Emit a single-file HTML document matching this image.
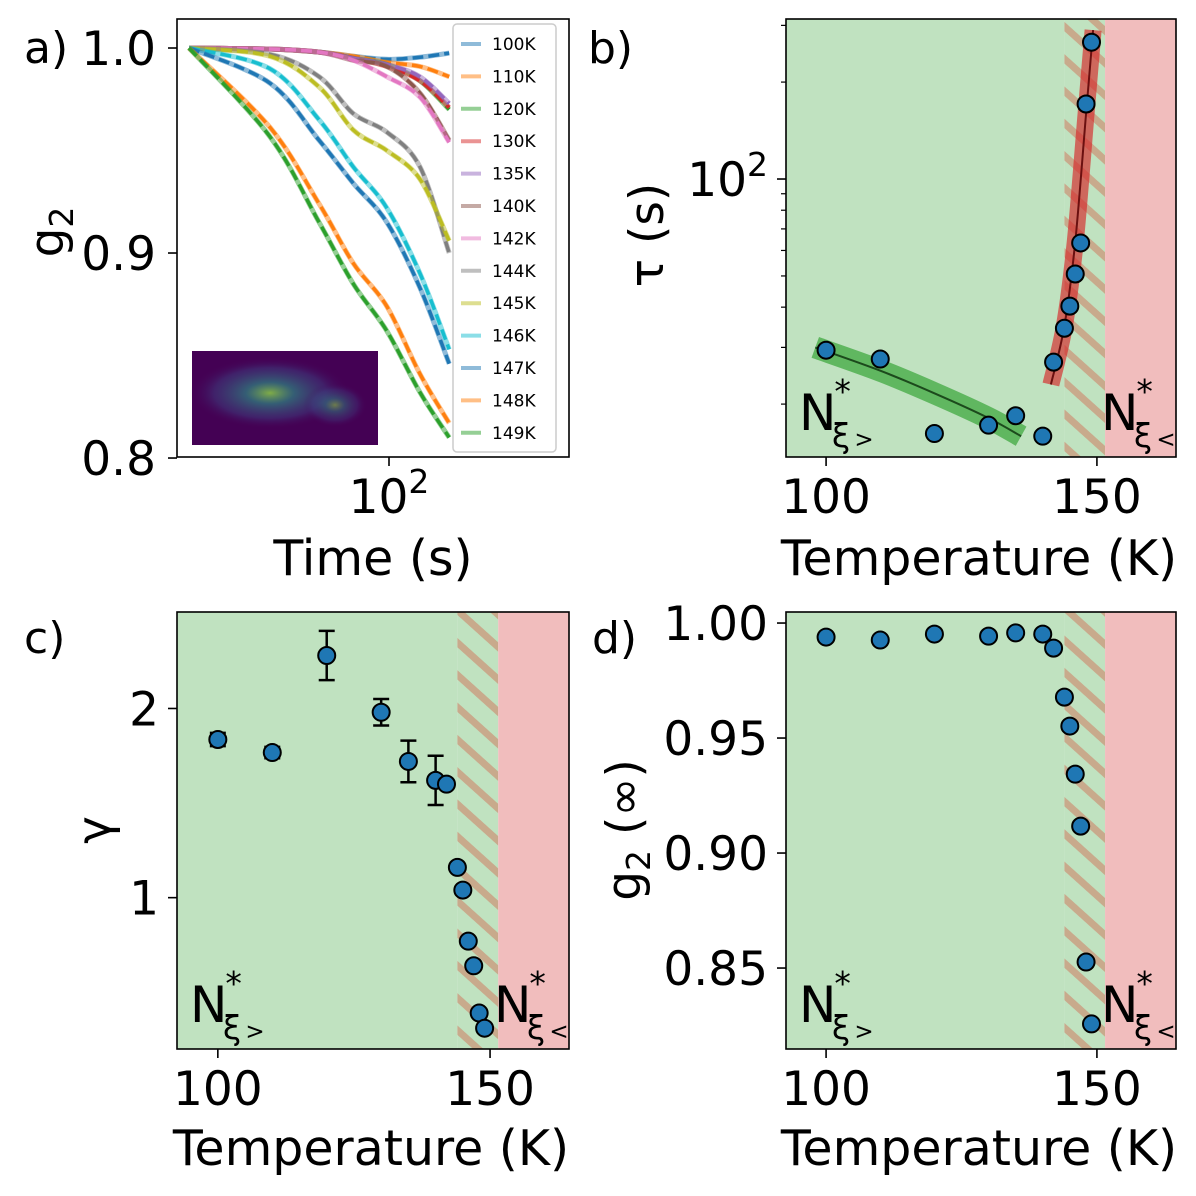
<!DOCTYPE html>
<html><head><meta charset="utf-8"><style>
html,body{margin:0;padding:0;background:#fff;}
svg{display:block;font-family:"DejaVu Sans","Liberation Sans",sans-serif;}
</style></head><body>
<svg id="fig" width="1196" height="1196" viewBox="0 0 1196 1196" xmlns="http://www.w3.org/2000/svg">
<defs>
<pattern id="hatch" patternUnits="userSpaceOnUse" width="24" height="24" patternTransform="rotate(42)">
<rect x="0" y="0" width="24" height="24" fill="#c0e2c0"/>
<rect x="0" y="0" width="24" height="7" fill="#c8aa8c"/>
</pattern>
<radialGradient id="blob" cx="50%" cy="50%" r="50%">
<stop offset="0" stop-color="#8fd744" stop-opacity="0.8"/><stop offset="0.3" stop-color="#2a9c8a" stop-opacity="0.6"/><stop offset="0.7" stop-color="#3b528b" stop-opacity="0.4"/><stop offset="1" stop-color="#440154" stop-opacity="0"/>
</radialGradient>
</defs>
</svg>
<script>
// ---------- data ----------
const aTimes = [1, 6.4, 20, 44, 95, 204, 400];
const aLabels = ['100K','110K','120K','130K','135K','140K','142K','144K','145K','146K','147K','148K','149K'];
const aColors = ['#1f77b4','#ff7f0e','#2ca02c','#d62728','#9467bd','#8c564b','#e377c2','#7f7f7f','#bcbd22','#17becf','#1f77b4','#ff7f0e','#2ca02c'];
const g100 = [1, 0.9995, 0.998, 0.996, 0.9945, 0.9955, 0.9975];
const g110 = [1, 0.9995, 0.998, 0.996, 0.993, 0.991, 0.986];
const g120 = [1, 0.9995, 0.998, 0.995, 0.992, 0.984, 0.970];
const g130 = [1, 0.9995, 0.998, 0.995, 0.991, 0.984, 0.971];
const g135 = [1, 0.9995, 0.998, 0.995, 0.992, 0.986, 0.973];
const g140 = [1, 0.9995, 0.998, 0.994, 0.991, 0.978, 0.955];
const g142 = [1, 0.9995, 0.998, 0.994, 0.986, 0.976, 0.954];
const g144 = [1, 0.997, 0.986, 0.968, 0.959, 0.942, 0.900];
const g145 = [1, 0.996, 0.981, 0.960, 0.950, 0.936, 0.906];
const g146 = [1, 0.990, 0.965, 0.942, 0.922, 0.890, 0.853];
const g147 = [1, 0.983, 0.955, 0.934, 0.915, 0.883, 0.846];
const g148 = [1, 0.9615, 0.924, 0.895, 0.874, 0.841, 0.817];
const g149 = [1, 0.957, 0.915, 0.885, 0.862, 0.832, 0.810];
const aSeries = [g100,g110,g120,g130,g135,g140,g142,g144,g145,g146,g147,g148,g149];

const temps = [100,110,120,130,135,140,142,144,145,146,147,148,149];
const tauVals = [29.4, 27.6, 16.2, 17.2, 18.4, 15.9, 27.0, 34.4, 40.3, 50.7, 63.3, 171, 266];
const fitLowT = [98, 110, 120, 130, 136];
const fitLowTau = [30, 25.4, 21.6, 18.1, 15.9];
const fitHighT = [141.5, 144, 146, 148, 149.3];
const fitHighTau = [23, 35, 64, 160, 290];
const gammaVals = [1.836, 1.767, 2.28, 1.98, 1.72, 1.62, 1.60, 1.16, 1.04, 0.77, 0.64, 0.39, 0.31];
const gammaErr = [0.035, 0.03, 0.13, 0.07, 0.11, 0.13, 0, 0, 0, 0, 0, 0, 0];
const ginfVals = [0.9939, 0.9926, 0.9952, 0.9943, 0.9957, 0.9952, 0.9891, 0.9678, 0.9552, 0.9343, 0.9117, 0.8526, 0.8257];
const tauTicks = [100];
const gammaTicks = [1, 2];
const ginfTicks = [1.00, 0.95, 0.90, 0.85];
const ginfTickLabels = ['1.00','0.95','0.90','0.85'];
const g2Ticks = [1.0, 0.9, 0.8];
const g2TickLabels = ['1.0','0.9','0.8'];
const tempTicks = [100, 150];

// ---------- helpers ----------
const NS = 'http://www.w3.org/2000/svg';
const svg = document.getElementById('fig');
function mk(tag, attrs, parent){ const e=document.createElementNS(NS,tag); for(const k in attrs) e.setAttribute(k,attrs[k]); (parent||svg).appendChild(e); return e; }
function lin(d0,d1,r0,r1){ return v => r0 + (v-d0)*(r1-r0)/(d1-d0); }
function logs(d0,d1,r0,r1){ return v => r0 + (Math.log10(v)-Math.log10(d0))*(r1-r0)/(Math.log10(d1)-Math.log10(d0)); }
function txt(x,y,s,size,anchor,parent){ const t=mk('text',{x:x,y:y,'font-size':size,'text-anchor':anchor||'start',fill:'#000'},parent); t.textContent=s; return t; }
function smooth(p){
  let d='M'+p[0][0].toFixed(1)+','+p[0][1].toFixed(1);
  for(let i=0;i<p.length-1;i++){
    const p0=p[Math.max(0,i-1)],p1=p[i],p2=p[i+1],p3=p[Math.min(p.length-1,i+2)];
    const c1=[p1[0]+(p2[0]-p0[0])/6,p1[1]+(p2[1]-p0[1])/6];
    const c2=[p2[0]-(p3[0]-p1[0])/6,p2[1]-(p3[1]-p1[1])/6];
    d+=' C'+c1[0].toFixed(1)+','+c1[1].toFixed(1)+' '+c2[0].toFixed(1)+','+c2[1].toFixed(1)+' '+p2[0].toFixed(1)+','+p2[1].toFixed(1);
  }
  return d;
}

// ---------- panel geometry ----------
const A = {x0:177,x1:569,y0:19,y1:457};
const B = {x0:786,x1:1176,y0:19,y1:457};
const C = {x0:177,x1:569,y0:612,y1:1049};
const D = {x0:786,x1:1176,y0:612,y1:1049};

const ax = logs(Math.pow(10,-0.12), Math.pow(10,3.8), A.x0, A.x1);
const ay = lin(0.8005, 1.01415, A.y1, A.y0);
const bx = lin(92.6, 164.6, B.x0, B.x1);
const by = logs(13.7, 314, B.y1, B.y0);
const cx = lin(92.5, 164.5, C.x0, C.x1);
const cy = lin(0.20, 2.51, C.y1, C.y0);
const dx = lin(92.6, 164.6, D.x0, D.x1);
const dy = lin(0.8148, 1.0048, D.y1, D.y0);

// ---------- panel a ----------
const gA = mk('g',{});


aSeries.forEach((s,i)=>{
  const d = smooth(s.map((v,j)=>[ax(aTimes[j]), ay(v)]));
  const l = mk('path',{d:d,fill:'none',stroke:aColors[i],'stroke-width':5,'stroke-opacity':0.5,'stroke-linejoin':'round'},gA);
  
  
  const f = mk('path',{d:d,fill:'none',stroke:aColors[i],'stroke-width':3.5,'stroke-dasharray':'11,5'},gA);
  
  
});
// inset
const inset = mk('g',{},gA);


mk('rect',{x:192,y:351,width:186,height:94,fill:'#440154'},inset);
mk('ellipse',{cx:270,cy:393,rx:80,ry:36,fill:'url(#blob)'},inset);
mk('ellipse',{cx:335,cy:405,rx:32,ry:22,fill:'url(#blob)',opacity:0.7},inset);
// legend
const leg = mk('g',{},gA);


mk('rect',{x:453,y:24,width:103,height:428,rx:4,fill:'#fff','fill-opacity':0.8,stroke:'#ccc','stroke-width':1.5},leg);
aLabels.forEach((lab,i)=>{
  const y = 44 + i*32.4;
  const e = mk('g',{},leg);
  
  
  mk('line',{x1:461,x2:481,y1:y,y2:y,stroke:aColors[i],'stroke-width':4,'stroke-opacity':0.5},e);
  txt(492,y+6,lab,17,'start',e);
});
mk('rect',{x:A.x0,y:A.y0,width:A.x1-A.x0,height:A.y1-A.y0,fill:'none',stroke:'#000','stroke-width':1.6},gA);
g2Ticks.forEach((v,i)=>{
  mk('line',{x1:A.x0-9,x2:A.x0,y1:ay(v),y2:ay(v),stroke:'#000','stroke-width':1.6},gA);
  const t = txt(156,ay(v)+17,g2TickLabels[i],47,'end',gA);
  
  
});
mk('line',{x1:ax(100),x2:ax(100),y1:A.y1,y2:A.y1+9,stroke:'#000','stroke-width':1.6},gA);
const xt = mk('text',{x:ax(100),y:513,'font-size':47,'text-anchor':'middle'},gA);
xt.innerHTML = '10<tspan dy="-20" font-size="33">2</tspan>';


const axl = txt(373,575,'Time (s)',49,'middle',gA);


const ayl = mk('text',{x:0,y:0,'font-size':47,'text-anchor':'middle',transform:'translate(63,232) rotate(-90)'},gA);
ayl.innerHTML = 'g<tspan dy="10" font-size="33">2</tspan>';


const la = txt(24,63,'a)',44,'start',gA);



// ---------- shared ----------
function regions(P, sx, g){
  mk('rect',{x:P.x0,y:P.y0,width:sx(144)-P.x0,height:P.y1-P.y0,fill:'#c0e2c0'},g);
  mk('rect',{x:sx(144),y:P.y0,width:sx(151.5)-sx(144),height:P.y1-P.y0,fill:'url(#hatch)'},g);
  mk('rect',{x:sx(151.5),y:P.y0,width:P.x1-sx(151.5),height:P.y1-P.y0,fill:'#f1bdbd'},g);
}
function frame(P,g){ mk('rect',{x:P.x0,y:P.y0,width:P.x1-P.x0,height:P.y1-P.y0,fill:'none',stroke:'#000','stroke-width':1.6},g); }
function xTicks(P,sx,g,labY,titleY){
  tempTicks.forEach(v=>{
    mk('line',{x1:sx(v),x2:sx(v),y1:P.y1,y2:P.y1+9,stroke:'#000','stroke-width':1.6},g);
    const t = txt(sx(v),labY,String(v),47,'middle',g);
    
    
  });
  const tt = txt((P.x0+P.x1)/2-2,titleY,'Temperature (K)',49,'middle',g);
  
  
}
function nLabels(P,g){
  const a = mk('text',{x:P.x0+13,y:P.y1-27,'font-size':50},g);
  a.innerHTML = 'N<tspan dx="-2" dy="-27" font-size="33">*</tspan><tspan dx="-19" dy="44" font-size="33">ξ</tspan><tspan dx="4" font-size="23">&gt;</tspan>';
  
  
  const b = mk('text',{x:P.x1-75,y:P.y1-27,'font-size':50},g);
  b.innerHTML = 'N<tspan dx="-2" dy="-27" font-size="33">*</tspan><tspan dx="-19" dy="44" font-size="33">ξ</tspan><tspan dx="4" font-size="23">&lt;</tspan>';
  
  
}
function dot(x,y,g,name){
  const c = mk('circle',{cx:x,cy:y,r:8.5,fill:'#1f77b4',stroke:'#000','stroke-width':2},g);
  
  
}

// ---------- panel b ----------
const gB = mk('g',{});


regions(B,bx,gB);
const lowD = smooth(fitLowT.map((t,i)=>[bx(t),by(fitLowTau[i])]));
const band1 = mk('path',{d:lowD,fill:'none',stroke:'#2ca02c','stroke-opacity':0.65,'stroke-width':22},gB);


const fl1 = mk('path',{d:lowD,fill:'none',stroke:'#1c4a1c','stroke-width':2},gB);


const hiD = smooth(fitHighT.map((t,i)=>[bx(t),by(fitHighTau[i])]));
const band2 = mk('path',{d:hiD,fill:'none',stroke:'#d62728','stroke-opacity':0.65,'stroke-width':17},gB);


const fl2 = mk('path',{d:hiD,fill:'none',stroke:'#6b1010','stroke-width':2},gB);


temps.forEach((t,i)=>dot(bx(t),by(tauVals[i]),gB,'tau-point-'+t+'K'));
nLabels(B,gB);
frame(B,gB);
tauTicks.forEach(v=>{
  mk('line',{x1:B.x0-9,x2:B.x0,y1:by(v),y2:by(v),stroke:'#000','stroke-width':1.6},gB);
  const t = mk('text',{x:B.x0-18,y:by(v)+17,'font-size':47,'text-anchor':'end'},gB);
  t.innerHTML = '10<tspan dy="-20" font-size="33">2</tspan>';
  
  
});
[20,30,40,50,60,70,80,90,200,300].forEach(v=>{
  mk('line',{x1:B.x0-5,x2:B.x0,y1:by(v),y2:by(v),stroke:'#000','stroke-width':1.2},gB);
});
xTicks(B,bx,gB,513,575);
const byl = txt(0,0,'τ (s)',47,'middle',gB);
byl.setAttribute('transform','translate(663,235) rotate(-90)');


const lb = txt(588,63,'b)',44,'start',gB);



// ---------- panel c ----------
const gC = mk('g',{});


regions(C,cx,gC);
temps.forEach((t,i)=>{
  if(gammaErr[i]>0){
    const e = mk('g',{stroke:'#000','stroke-width':2.5},gC);
    
    
    const x=cx(t), ya=cy(gammaVals[i]+gammaErr[i]), yb=cy(gammaVals[i]-gammaErr[i]);
    mk('line',{x1:x,x2:x,y1:ya,y2:yb},e);
    mk('line',{x1:x-8,x2:x+8,y1:ya,y2:ya},e);
    mk('line',{x1:x-8,x2:x+8,y1:yb,y2:yb},e);
  }
});
temps.forEach((t,i)=>dot(cx(t),cy(gammaVals[i]),gC,'gamma-point-'+t+'K'));
nLabels(C,gC);
frame(C,gC);
gammaTicks.forEach(v=>{
  mk('line',{x1:C.x0-9,x2:C.x0,y1:cy(v),y2:cy(v),stroke:'#000','stroke-width':1.6},gC);
  const t = txt(C.x0-18,cy(v)+17,String(v),47,'end',gC);
  
  
});
xTicks(C,cx,gC,1105,1165);
const cyl = txt(0,0,'γ',47,'middle',gC);
cyl.setAttribute('transform','translate(110,830) rotate(-90)');


const lc = txt(24,653,'c)',44,'start',gC);



// ---------- panel d ----------
const gD = mk('g',{});


regions(D,dx,gD);
temps.forEach((t,i)=>dot(dx(t),dy(ginfVals[i]),gD,'ginf-point-'+t+'K'));
nLabels(D,gD);
frame(D,gD);
ginfTicks.forEach((v,i)=>{
  mk('line',{x1:D.x0-9,x2:D.x0,y1:dy(v),y2:dy(v),stroke:'#000','stroke-width':1.6},gD);
  const t = txt(D.x0-18,dy(v)+17,ginfTickLabels[i],47,'end',gD);
  
  
});
xTicks(D,dx,gD,1105,1165);
const dyl = mk('text',{x:0,y:0,'font-size':47,'text-anchor':'middle',transform:'translate(640,830) rotate(-90)'},gD);
dyl.innerHTML = 'g<tspan dy="10" font-size="33">2</tspan><tspan dy="-10"> (∞)</tspan>';


const ld = txt(592,653,'d)',44,'start',gD);


</script>
</body></html>
